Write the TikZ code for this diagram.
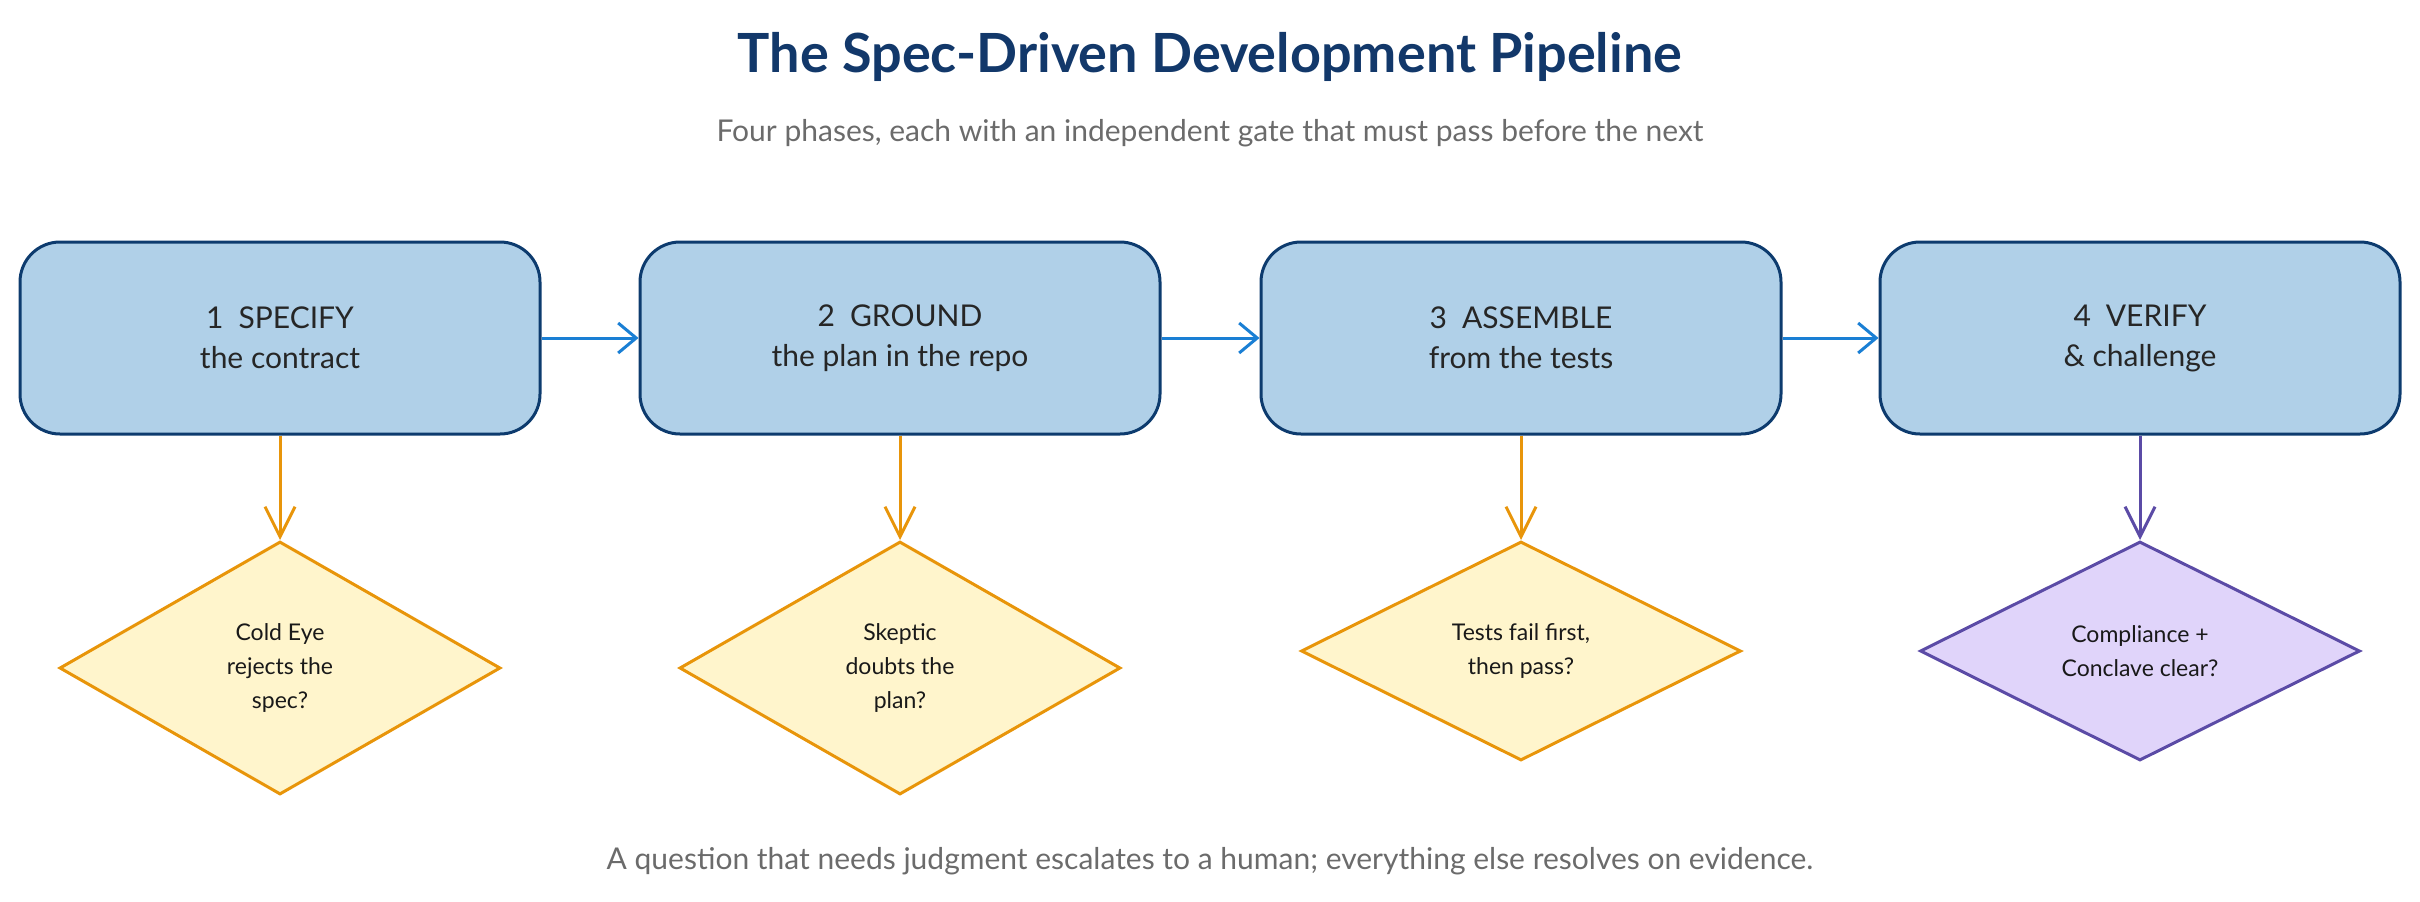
\documentclass[tikz,border=0pt]{standalone}
\usepackage{fontspec}
\setmainfont{Lato}
\usetikzlibrary{shapes.geometric,arrows.meta}
\definecolor{ttl}{HTML}{12386A}
\definecolor{sub}{HTML}{6B6B6B}
\definecolor{boxf}{HTML}{B0D0E8}
\definecolor{boxd}{HTML}{0D3B6E}
\definecolor{blu}{HTML}{1A7FD4}
\definecolor{org}{HTML}{E8950A}
\definecolor{gatef}{HTML}{FFF5CC}
\definecolor{pur}{HTML}{5B4BA6}
\definecolor{purf}{HTML}{E0D4FA}
\tikzset{
 phase/.style={draw=boxd,fill=boxf,line width=3pt,rounded corners=40pt,minimum width=520pt,minimum height=192pt,align=center,font=\fontsize{30}{40}\selectfont,text=black!85},
 gate/.style={diamond,draw=org,fill=gatef,line width=3pt,inner sep=0pt,align=center,font=\fontsize{23}{34}\selectfont,text=black!90},
 pgate/.style={gate,draw=pur,fill=purf},
 flow/.style={draw=blu,line width=3pt,-{Straight Barb[length=18pt,width=30pt,line width=3pt]}},
 gflow/.style={draw=org,line width=3pt,-{Straight Barb[length=30pt,width=30pt,line width=3pt]}},
 pflow/.style={gflow,draw=pur},
}
\begin{document}
\begin{tikzpicture}[x=1pt,y=-1pt]
\useasboundingbox (0,0) rectangle (2420,902);
\node[font=\fontsize{54}{60}\selectfont\bfseries,text=ttl] (title) at (1210,57) {The Spec-Driven Development Pipeline};
\node[font=\fontsize{30}{36}\selectfont,text=sub] (subt) at (1210,133) {Four phases, each with an independent gate that must pass before the next};
\node[phase] (p1) at (280,338) {1\enspace SPECIFY\\the contract};
\node[phase] (p2) at (900,338) {2\enspace GROUND\\the plan in the repo};
\node[phase] (p3) at (1521,338) {3\enspace ASSEMBLE\\from the tests};
\node[phase] (p4) at (2140,338) {4\enspace VERIFY\\\& challenge};
\node[gate,minimum width=441pt,minimum height=253pt] (g1) at (280,668) {Cold Eye\\rejects the\\spec?};
\node[gate,minimum width=441pt,minimum height=253pt] (g2) at (900,668) {Skeptic\\doubts the\\plan?};
\node[gate,minimum width=440pt,minimum height=219pt] (g3) at (1521,651) {Tests fail first,\\then pass?};
\node[pgate,minimum width=440pt,minimum height=219pt] (g4) at (2140,651) {Compliance +\\Conclave clear?};
\draw[flow] (p1) -- (p2);
\draw[flow] (p2) -- (p3);
\draw[flow] (p3) -- (p4);
\draw[gflow] (p1) -- (g1.north);
\draw[gflow] (p2) -- (g2.north);
\draw[gflow] (p3) -- (g3.north);
\draw[pflow] (p4) -- (g4.north);
\node[font=\fontsize{30}{36}\selectfont,text=sub] (foot) at (1210,861) {A question that needs judgment escalates to a human; everything else resolves on evidence.};
\end{tikzpicture}
\end{document}
